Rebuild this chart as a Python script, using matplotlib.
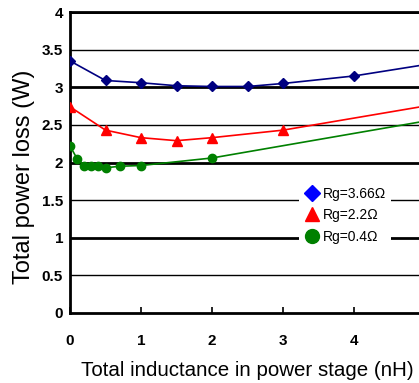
import matplotlib.pyplot as plt
from matplotlib.lines import Line2D

plt.rcParams['font.family'] = ['Liberation Sans', 'DejaVu Sans']

# data
x_366 = [0, 0.5, 1, 1.5, 2, 2.5, 3, 4, 5]
y_366 = [3.35, 3.09, 3.06, 3.02, 3.01, 3.01, 3.05, 3.15, 3.30]

x_22 = [0, 0.5, 1, 1.5, 2, 3, 5]
y_22 = [2.74, 2.43, 2.33, 2.29, 2.33, 2.43, 2.75]

x_04 = [0, 0.1, 0.2, 0.3, 0.4, 0.5, 0.7, 1, 2, 5]
y_04 = [2.22, 2.05, 1.96, 1.95, 1.95, 1.93, 1.95, 1.96, 2.06, 2.55]

labels = ['Rg=3.66Ω', 'Rg=2.2Ω', 'Rg=0.4Ω']
xticks = [0, 1, 2, 3, 4, 5]
yticks = [0, 0.5, 1, 1.5, 2, 2.5, 3, 3.5, 4]

W, H = 419, 383
fig = plt.figure(figsize=(W / 100, H / 100), dpi=100)
fig.patch.set_facecolor('white')
# axes runs past the right edge, as in the cropped original
ax = fig.add_axes([70 / W, (H - 313) / H, (425 - 70) / W, (313 - 12) / H])

# gridlines: whole numbers heavier than halves
for v in yticks[1:]:
    lw = 2.0 if v == int(v) else 1.0
    ax.axhline(v, color='black', linewidth=lw, zorder=1)

ax.plot(x_366, y_366, color='#000080', linewidth=1.2, marker='D',
        markersize=5.5, markerfacecolor='#000080', markeredgecolor='#000080', zorder=3)
ax.plot(x_22, y_22, color='#FF0000', linewidth=1.2, marker='^',
        markersize=7, markerfacecolor='#FF0000', markeredgecolor='#FF0000', zorder=3)
ax.plot(x_04, y_04, color='#008000', linewidth=1.2, marker='o',
        markersize=6, markerfacecolor='#008000', markeredgecolor='#008000', zorder=3)

ax.set_xlim(0, 5)
ax.set_ylim(0, 4)
ax.set_xticks(xticks)
ax.set_yticks(yticks)
ax.set_yticklabels(['0', '0.5', '1', '1.5', '2', '2.5', '3', '3.5', '4'])
ax.tick_params(axis='x', direction='in', length=4, width=1.2, pad=15,
               labelsize=11)
ax.tick_params(axis='y', length=0, pad=5, labelsize=11)
for lab in ax.get_xticklabels() + ax.get_yticklabels():
    lab.set_fontweight('bold')

for s in ['left', 'bottom', 'top']:
    ax.spines[s].set_linewidth(2)
ax.spines['right'].set_visible(False)

ax.set_xlabel('Total inductance in power stage (nH)', fontsize=14.8)
ax.set_ylabel('Total power loss (W)', fontsize=17)
ax.xaxis.set_label_coords((247 - 70) / 355, -(361 - 313) / 301)
ax.yaxis.set_label_coords(-(70 - 35) / 355, (313 - 177) / 301)

handles = [
    Line2D([], [], linestyle='none', marker='D', markersize=8, color='#0000FF'),
    Line2D([], [], linestyle='none', marker='^', markersize=10, color='#FF0000'),
    Line2D([], [], linestyle='none', marker='o', markersize=10, color='#008000'),
]
leg = ax.legend(handles, labels, loc='upper left',
                bbox_to_anchor=((299 - 70) / 355, (313 - 181) / 301),
                frameon=True, facecolor='white', edgecolor='none', framealpha=1,
                fancybox=False, fontsize=10, handlelength=1.0, handletextpad=0.3,
                labelspacing=0.55, borderpad=0.4, borderaxespad=0)
leg.set_zorder(5)

fig.savefig('out.png', dpi=100)
